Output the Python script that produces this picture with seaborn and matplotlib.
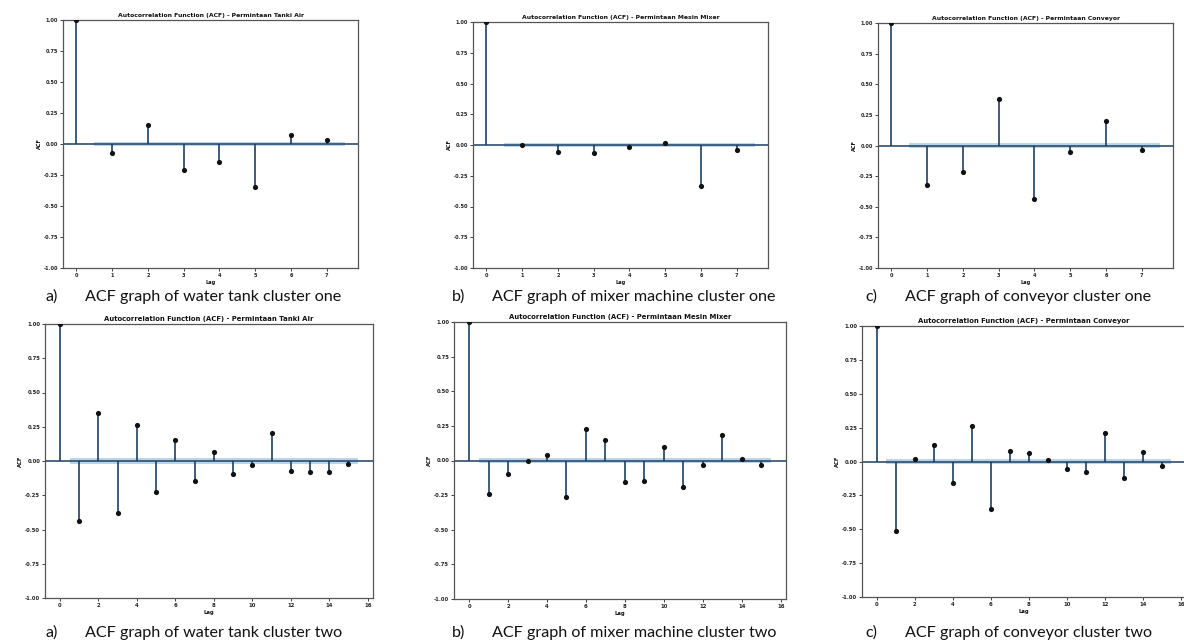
import numpy as np
import pandas as pd
import matplotlib
matplotlib.use("Agg")
import matplotlib.pyplot as plt
import seaborn as sns
from matplotlib.ticker import FormatStrFormatter

sns.set_theme(style="white")
plt.rcParams['font.family'] = ['DejaVu Sans']

# ---------------- data ----------------
titles = [
    "Autocorrelation Function (ACF) - Permintaan Tanki Air",
    "Autocorrelation Function (ACF) - Permintaan Mesin Mixer",
    "Autocorrelation Function (ACF) - Permintaan Conveyor",
]
captions_top = ["ACF graph of water tank cluster one",
                "ACF graph of mixer machine cluster one",
                "ACF graph of conveyor cluster one"]
captions_bottom = ["ACF graph of water tank cluster two",
                   "ACF graph of mixer machine cluster two",
                   "ACF graph of conveyor cluster two"]
letters = ["a)", "b)", "c)"]

lags_short = [0, 1, 2, 3, 4, 5, 6, 7]
lags_long = list(range(16))

acf_tank_1 = [1.0, -0.073, 0.150, -0.210, -0.148, -0.344, 0.070, 0.032]
acf_mixer_1 = [1.0, -0.004, -0.053, -0.061, -0.018, 0.015, -0.335, -0.037]
acf_conv_1 = [1.0, -0.320, -0.216, 0.380, -0.434, -0.053, 0.203, -0.037]

acf_tank_2 = [1.0, -0.440, 0.348, -0.380, 0.265, -0.229, 0.156, -0.146,
              0.063, -0.097, -0.029, 0.204, -0.071, -0.083, -0.083, -0.019]
acf_mixer_2 = [1.0, -0.243, -0.096, -0.002, 0.041, -0.264, 0.226, 0.149,
               -0.156, -0.147, 0.099, -0.190, -0.036, 0.185, 0.012, -0.029]
acf_conv_2 = [1.0, -0.510, 0.016, 0.119, -0.161, 0.264, -0.348, 0.077,
              0.065, 0.014, -0.058, -0.080, 0.210, -0.119, 0.070, -0.036]

conf_half = 0.02

yticks = [-1.0, -0.75, -0.5, -0.25, 0.0, 0.25, 0.5, 0.75, 1.0]
xticks_short = [0, 1, 2, 3, 4, 5, 6, 7]
xticks_long = [0, 2, 4, 6, 8, 10, 12, 14, 16]

# ---------------- layout ----------------
W, H = 1184, 644
fig = plt.figure(figsize=(W / 100, H / 100), dpi=100)
fig.patch.set_facecolor("white")

def add_ax(left, right, top, bottom):
    return fig.add_axes([left / W, 1 - bottom / H, (right - left) / W, (bottom - top) / H])

panels = [
    (add_ax(63, 358, 20, 268), lags_short, acf_tank_1, titles[0], xticks_short, 4.45, 3.6),
    (add_ax(473, 768, 22, 268), lags_short, acf_mixer_1, titles[1], xticks_short, 4.45, 3.6),
    (add_ax(878, 1173, 23, 268), lags_short, acf_conv_1, titles[2], xticks_short, 4.45, 3.6),
    (add_ax(45, 373, 324, 598), lags_long, acf_tank_2, titles[0], xticks_long, 4.95, 3.8),
    (add_ax(454, 786, 322, 599), lags_long, acf_mixer_2, titles[1], xticks_long, 4.95, 3.8),
    (add_ax(862, 1186, 326, 597), lags_long, acf_conv_2, titles[2], xticks_long, 4.95, 3.8),
]

stem_color = "#1d3f63"
band_color = "#1f77b4"

for ax, lags, acf, title, xt, tsize, ksize in panels:
    lags = np.asarray(lags, dtype=float)
    acf = np.asarray(acf, dtype=float)
    ax.vlines(lags, 0, acf, color=stem_color, lw=1.2, zorder=2)
    ax.axhline(0, color=stem_color, lw=1.1, zorder=2)
    df = pd.DataFrame({"lag": lags, "acf": acf})
    sns.scatterplot(data=df, x="lag", y="acf", ax=ax, color="#111111",
                    s=14, edgecolor="#111111", linewidth=0, zorder=3)
    band_x = lags[1:].copy()
    band_x[0] -= 0.5
    band_x[-1] += 0.5
    ax.fill_between(band_x, -conf_half, conf_half, color=band_color, alpha=0.3, lw=0, zorder=1)
    n = lags[-1] + 0.5
    ax.set_xlim(-0.05 * n, n + 0.05 * n)
    ax.set_ylim(-1, 1)
    ax.set_yticks(yticks)
    ax.yaxis.set_major_formatter(FormatStrFormatter("%.2f"))
    ax.set_xticks(xt)
    ax.tick_params(axis="both", labelsize=ksize, length=2, width=0.6, pad=1.5,
                   colors="#222222", bottom=True, left=True)
    for lbl in ax.get_xticklabels() + ax.get_yticklabels():
        lbl.set_fontweight("bold")
    for sp in ax.spines.values():
        sp.set_color("#555555")
        sp.set_linewidth(0.9)
    ax.set_title(title, fontsize=tsize, pad=2, color="#111111", fontweight="semibold")
    ax.set_xlabel("Lag", fontsize=ksize, labelpad=1.5, color="#111111", fontweight="bold")
    ax.set_ylabel("ACF", fontsize=ksize, labelpad=1.5, color="#111111", fontweight="bold")
    ax.grid(False)

# captions
cap_font = "Lato"
cap_size = 11.6
letter_x = [45, 452, 865]
text_x = [85, 492, 905]
for i in range(3):
    fig.text(letter_x[i] / W, 1 - 297 / H, letters[i], fontsize=cap_size, family=cap_font,
             color="#111111", va="center", ha="left")
    fig.text(text_x[i] / W, 1 - 297 / H, captions_top[i], fontsize=cap_size, family=cap_font,
             color="#111111", va="center", ha="left")
    fig.text(letter_x[i] / W, 1 - 633 / H, letters[i], fontsize=cap_size, family=cap_font,
             color="#111111", va="center", ha="left")
    fig.text(text_x[i] / W, 1 - 633 / H, captions_bottom[i], fontsize=cap_size, family=cap_font,
             color="#111111", va="center", ha="left")

fig.savefig("out.png", dpi=100, facecolor="white")
